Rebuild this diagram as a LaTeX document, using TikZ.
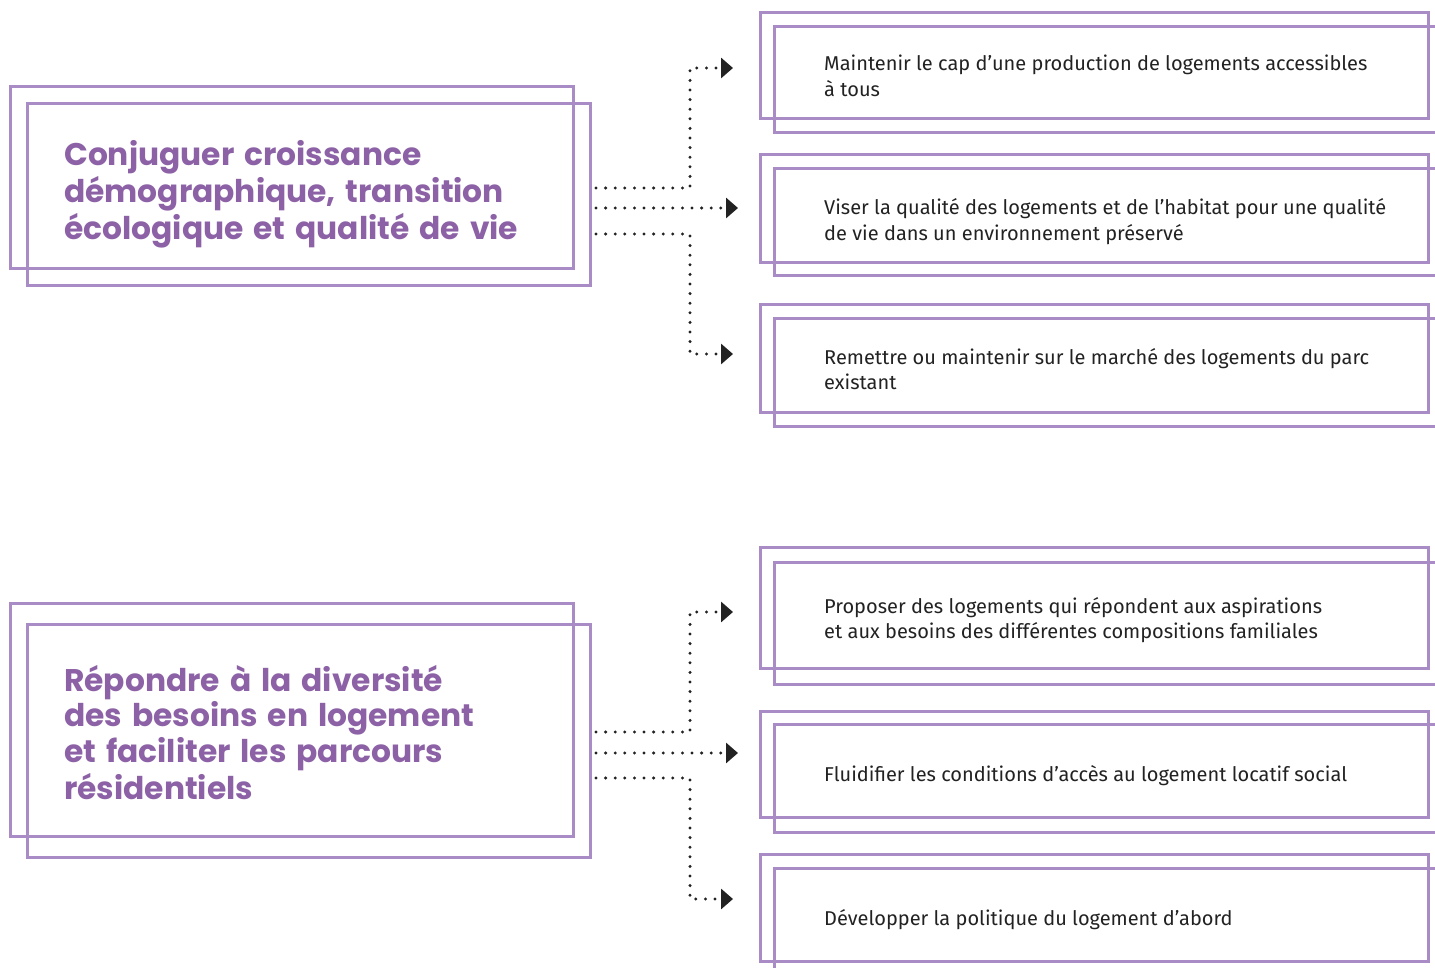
\documentclass[tikz,border=0pt]{standalone}
\usepackage{fontspec}
\usetikzlibrary{arrows.meta}
\newfontfamily\titlefont[WordSpace=1.5]{Poppins}
\newfontfamily\bodyfont{Fira Sans}
\definecolor{titlepurple}{HTML}{8C61A6}
\definecolor{framepurple}{HTML}{A98CC5}
\definecolor{ink}{HTML}{222222}

\tikzset{
  frame/.style={draw=framepurple, line width=3pt, rectangle, outer sep=0pt,
    inner sep=0pt, anchor=north west},
  title/.style={anchor=base west, inner sep=0pt, text=titlepurple,
    font=\titlefont\bfseries\fontsize{31.3}{35.7}\selectfont},
  item/.style={anchor=base west, inner sep=0pt, text=ink,
    font=\bodyfont\fontsize{20}{25.5}\selectfont},
  link/.style={draw=ink, line width=3.3pt, line cap=round,
    dash pattern=on 0pt off 9.6pt},
  tip/.style={-{Triangle[length=12pt,width=20pt,fill=ink]}},
}
\newcommand{\lines}[1]{\begin{tabular}[t]{@{}l@{}}#1\end{tabular}}

\begin{document}
\begin{tikzpicture}[x=1pt,y=-1pt]
  \clip (0,0) rectangle (1435,968);
  \fill[white] (0,0) rectangle (1435,968);

  % ---- left goals: double frames ----
  \node[frame, minimum width=563pt, minimum height=182pt] (L1b) at (10,87) {};
  \node[frame, minimum width=563pt, minimum height=182pt] (L1) at (27,104) {};
  \node[title] (T1) at (64,166) {\lines{Conjuguer croissance\\
    démographique, transition\\ écologique et qualité de vie}};

  \node[frame, minimum width=563pt, minimum height=233pt] (L2b) at (10,603) {};
  \node[frame, minimum width=563pt, minimum height=233pt] (L2) at (27,624) {};
  \node[title] (T2) at (64,691) {\lines{Répondre à la diversité\\
    des besoins en logement\\ et faciliter les parcours\\ résidentiels}};

  % ---- right actions: double frames ----
  \node[frame, minimum width=668pt, minimum height=106pt] (R1) at (760,13) {};
  \node[frame, minimum width=674pt, minimum height=106pt] (R1f) at (774,27) {};
  \node[item] (A1) at (824,71) {\lines{Maintenir le cap d’une production de logements accessibles\\ à tous}};

  \node[frame, minimum width=668pt, minimum height=108pt] (R2) at (760,155) {};
  \node[frame, minimum width=674pt, minimum height=107pt] (R2f) at (774,169) {};
  \node[item] (A2) at (824,215) {\lines{Viser la qualité des logements et de l’habitat pour une qualité\\ de vie dans un environnement préservé}};

  \node[frame, minimum width=668pt, minimum height=107pt] (R3) at (760,305) {};
  \node[frame, minimum width=674pt, minimum height=107pt] (R3f) at (774,319) {};
  \node[item] (A3) at (824,364) {\lines{Remettre ou maintenir sur le marché des logements du parc\\ existant}};

  \node[frame, minimum width=668pt, minimum height=121pt] (R4) at (760,547) {};
  \node[frame, minimum width=674pt, minimum height=122pt] (R4f) at (774,562) {};
  \node[item] (A4) at (824,613) {\lines{Proposer des logements qui répondent aux aspirations\\ et aux besoins des différentes compositions familiales}};

  \node[frame, minimum width=668pt, minimum height=106pt] (R5) at (760,711) {};
  \node[frame, minimum width=674pt, minimum height=108pt] (R5f) at (774,724) {};
  \node[item] (A5) at (824,781) {\lines{Fluidifier les conditions d’accès au logement locatif social}};

  \node[frame, minimum width=668pt, minimum height=107pt] (R6) at (760,854) {};
  \node[frame, minimum width=674pt, minimum height=107pt] (R6f) at (774,868) {};
  \node[item] (A6) at (824,925) {\lines{Développer la politique du logement d’abord}};

  % ---- dotted connectors ----
  \coordinate (bend) at (690,0);
  \coordinate (s11) at (596,188);
  \coordinate (s12) at (596,208);
  \coordinate (s13) at (596,234);
  \coordinate (t11) at (733,68);
  \coordinate (t12) at (738,208);
  \coordinate (t13) at (733,354);
  \draw[link,tip] (s11) -- (s11 -| bend) |- (t11);
  \draw[link,tip] (s12) -- (t12);
  \draw[link,tip] (s13) -- (s13 -| bend) |- (t13);

  \coordinate (s21) at (596,732);
  \coordinate (s22) at (596,753);
  \coordinate (s23) at (596,778);
  \coordinate (t21) at (733,612);
  \coordinate (t22) at (738,753);
  \coordinate (t23) at (733,899);
  \draw[link,tip] (s21) -- (s21 -| bend) |- (t21);
  \draw[link,tip] (s22) -- (t22);
  \draw[link,tip] (s23) -- (s23 -| bend) |- (t23);
\end{tikzpicture}
\end{document}
